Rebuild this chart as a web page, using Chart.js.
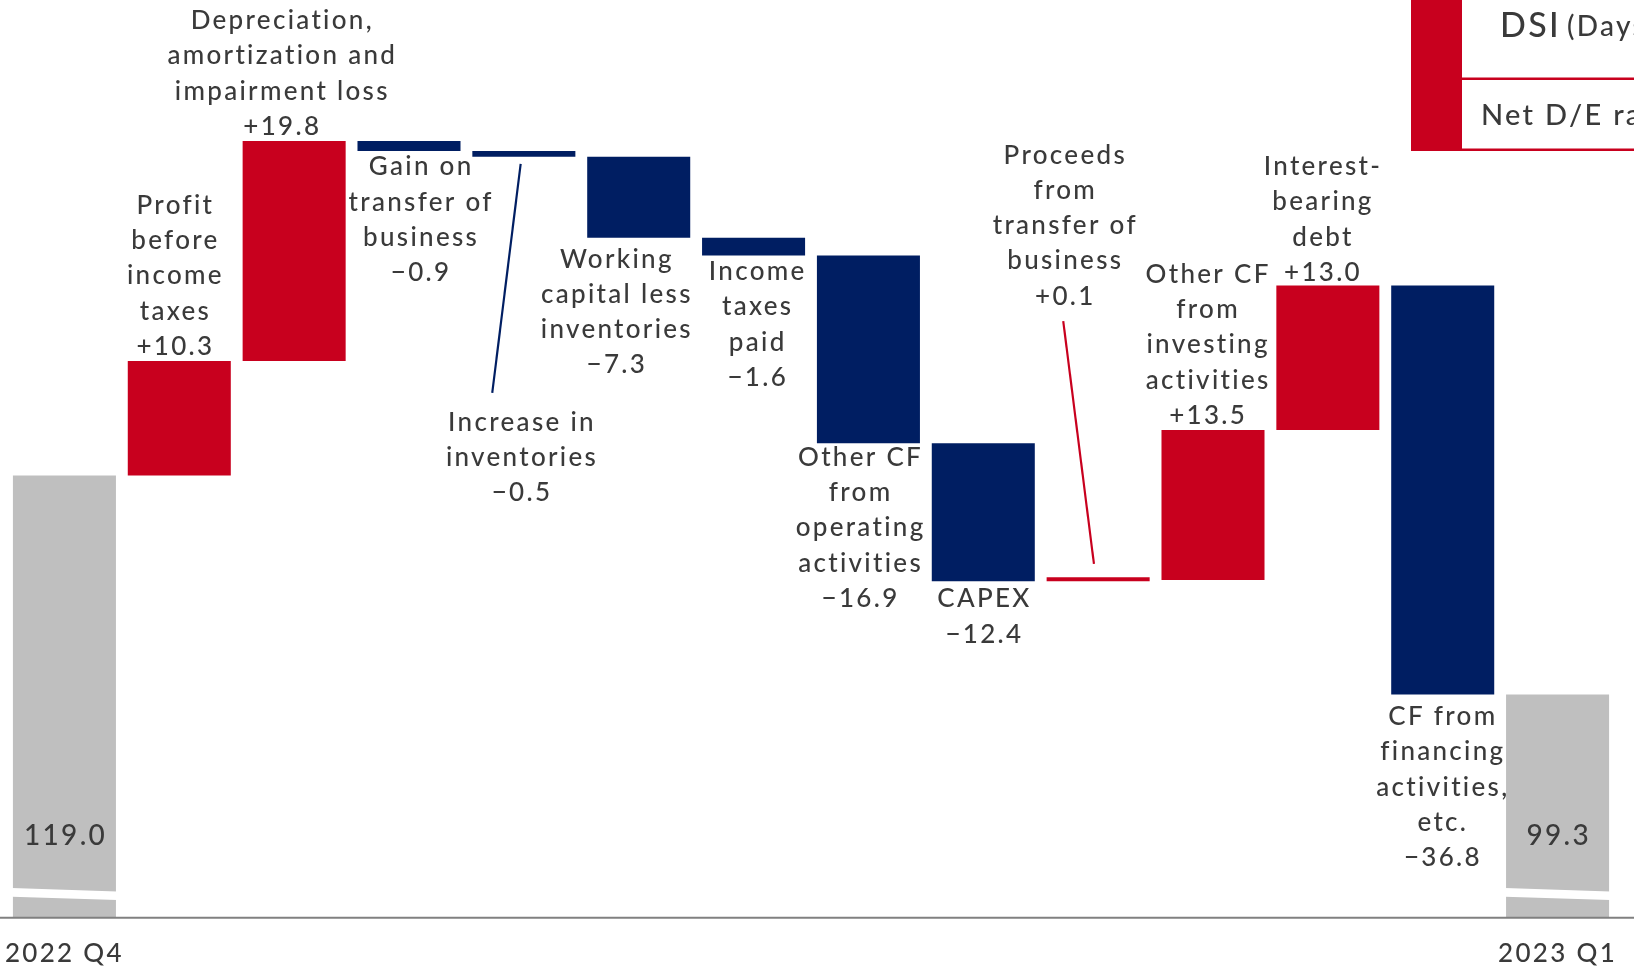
<!DOCTYPE html>
<html><head><meta charset="utf-8">
<script src="https://cdn.jsdelivr.net/npm/chart.js@4.4.0/dist/chart.umd.min.js"></script>
<style>html,body{margin:0;padding:0;background:#fff;overflow:hidden}</style>
</head><body>
<canvas id="c" width="1634" height="969"></canvas>
<script>
// ---------------- data ----------------
const categories = ['2022 Q4', 'Profit before income taxes', 'Depreciation, amortization and impairment loss',
  'Gain on transfer of business', 'Increase in inventories', 'Working capital less inventories',
  'Income taxes paid', 'Other CF from operating activities', 'CAPEX', 'Proceeds from transfer of business',
  'Other CF from investing activities', 'Interest-bearing debt', 'CF from financing activities, etc.', '2023 Q1'];
const categoryLines = [null, ['Profit', 'before', 'income', 'taxes'], ['Depreciation,', 'amortization and', 'impairment loss'],
  ['Gain on', 'transfer of', 'business'], ['Increase in', 'inventories'], ['Working', 'capital less', 'inventories'],
  ['Income', 'taxes', 'paid'], ['Other CF', 'from', 'operating', 'activities'], ['CAPEX'],
  ['Proceeds', 'from', 'transfer of', 'business'], ['Other CF', 'from', 'investing', 'activities'],
  ['Interest-', 'bearing', 'debt'], ['CF from', 'financing', 'activities,', 'etc.'], null];
const startValue = 119.0;
const endValue = 99.3;
const changes = [10.3, 19.8, -0.9, -0.5, -7.3, -1.6, -16.9, -12.4, 0.1, 13.5, 13.0, -36.8];
const tickLabels = ['2022 Q4', '', '', '', '', '', '', '', '', '', '', '', '', '2023 Q1'];
const axisMin = 79.2;
const axisMax = 161.8;

// ---------------- styles / layout ----------------
const RED = '#C8001E', NAVY = '#001E62', GRAY = '#BFBFBF', TEXT = '#3A3A3A';
const FONT = 'Lato, "Open Sans", sans-serif';
const WEIGHT = '500';
const LABEL_SIZE = 26, LINE_H = 35.2, SPACING = 2.3;
// label placement relative to each bar (pixels)
const labelLayout = [
  null,
  {pos: 'above', dx: -5, gap: 14.7},
  {pos: 'above', dx: -13, gap: 14.8},
  {pos: 'below', dx: 11, gap: 15.8},
  {pos: 'leaderBelow', dx: -3, gap: 265.6, line: [-3.2, 7.3, -31.6, 236.3]},
  {pos: 'below', dx: -23, gap: 21.5},
  {pos: 'below', dx: 3, gap: 16.2},
  {pos: 'below', dx: -9, gap: 14.3},
  {pos: 'below', dx: 0, gap: 17.8},
  {pos: 'leaderAbove', dx: -34, gap: 281, line: [-34.9, -256, -4.2, -13.3]},
  {pos: 'above', dx: -6, gap: 14.7},
  {pos: 'above', dx: -6, gap: 13.2},
  {pos: 'below', dx: -1, gap: 22.3},
  null
];

// ---------------- build waterfall ----------------
const bars = [startValue];
const colors = [GRAY];
let run = startValue;
changes.forEach(c => {
  const next = Math.round((run + c) * 10) / 10;
  bars.push([run, next]);
  colors.push(c >= 0 ? RED : NAVY);
  run = next;
});
bars.push(endValue);
colors.push(GRAY);

function fmtChange(c) { return (c >= 0 ? '+' : '\u2212') + Math.abs(c).toFixed(1); }

function centerText(ctx, t, x, y) {
  // compensate trailing letter spacing for centred text
  ctx.fillText(t, x + SPACING / 2, y);
}

const spacingPlugin = {
  id: 'spacing',
  beforeInit(chart) { chart.ctx.letterSpacing = SPACING + 'px'; },
  beforeDraw(chart) { chart.ctx.letterSpacing = SPACING + 'px'; }
};

const overlay = {
  id: 'overlay',
  afterDatasetsDraw(chart) {
    const ctx = chart.ctx, ca = chart.chartArea;
    const meta = chart.getDatasetMeta(0);
    ctx.save();
    ctx.letterSpacing = SPACING + 'px';
    // axis break on total bars
    [0, meta.data.length - 1].forEach(i => {
      const b = meta.data[i];
      const l = b.x - b.width / 2 - 1, r = b.x + b.width / 2 + 1;
      ctx.fillStyle = '#fff';
      ctx.beginPath();
      ctx.moveTo(l, ca.bottom - 29.7); ctx.lineTo(r, ca.bottom - 26.3);
      ctx.lineTo(r, ca.bottom - 17.7); ctx.lineTo(l, ca.bottom - 21);
      ctx.closePath(); ctx.fill();
    });
    // baseline across the page
    ctx.strokeStyle = '#808080'; ctx.lineWidth = 2;
    ctx.beginPath(); ctx.moveTo(0, ca.bottom); ctx.lineTo(chart.width, ca.bottom); ctx.stroke();

    // values inside total bars
    ctx.fillStyle = TEXT; ctx.textAlign = 'center'; ctx.textBaseline = 'middle';
    ctx.font = WEIGHT + ' 28px ' + FONT;
    [[0, startValue], [meta.data.length - 1, endValue]].forEach(([i, v]) => {
      centerText(ctx, v.toFixed(1), meta.data[i].x, ca.bottom - 82.3);
    });

    // change labels
    ctx.font = WEIGHT + ' ' + LABEL_SIZE + 'px ' + FONT;
    changes.forEach((c, k) => {
      const i = k + 1;
      const b = meta.data[i], L = labelLayout[i];
      const lines = categoryLines[i].concat([fmtChange(c)]);
      const top = Math.min(b.y, b.base), bottom = Math.max(b.y, b.base);
      const cx = b.x + L.dx;
      let firstY;
      if (L.pos === 'above' || L.pos === 'leaderAbove') {
        firstY = top - L.gap - (lines.length - 1) * LINE_H;
      } else {
        firstY = bottom + L.gap;
      }
      ctx.fillStyle = TEXT;
      lines.forEach((t, j) => centerText(ctx, t, cx, firstY + j * LINE_H));
      if (L.line) {
        const ref = L.pos === 'leaderAbove' ? top : bottom;
        ctx.strokeStyle = colors[i]; ctx.lineWidth = 2.2;
        ctx.beginPath();
        ctx.moveTo(b.x + L.line[0], ref + L.line[1]);
        ctx.lineTo(b.x + L.line[2], ref + L.line[3]);
        ctx.stroke();
      }
    });

    // partial table at top right
    ctx.fillStyle = RED;
    ctx.fillRect(1411, 0, 51, 151);
    ctx.fillRect(1462, 77.5, 200, 2.5);
    ctx.fillRect(1411, 148.5, 250, 2.5);
    ctx.fillStyle = TEXT; ctx.textAlign = 'left';
    ctx.font = WEIGHT + ' 34px ' + FONT;
    ctx.fillText('DSI', 1500, 26);
    const w = ctx.measureText('DSI').width;
    ctx.font = WEIGHT + ' 28px ' + FONT;
    ctx.fillText('(Days)', 1500 + w + 6, 27);
    ctx.font = WEIGHT + ' 29px ' + FONT;
    ctx.fillText('Net D/E ratio', 1481, 116);
    ctx.restore();
  }
};

new Chart(document.getElementById('c'), {
  type: 'bar',
  data: {
    labels: categories,
    datasets: [{
      data: bars,
      backgroundColor: colors,
      borderWidth: 0,
      borderSkipped: false,
      barPercentage: 0.897,
      categoryPercentage: 1.0,
      minBarLength: 4
    }]
  },
  options: {
    responsive: false,
    animation: false,
    devicePixelRatio: 1,
    layout: {padding: {left: 7, right: 19, top: 0, bottom: -20}},
    plugins: {legend: {display: false}, tooltip: {enabled: false}},
    scales: {
      x: {
        grid: {display: false, drawTicks: false},
        border: {display: false},
        ticks: {
          autoSkip: false, maxRotation: 0, padding: 0, color: TEXT,
          font: {family: FONT, size: 26, weight: WEIGHT, lineHeight: 2.738},
          callback: (v, i) => tickLabels[i]
        }
      },
      y: {display: false, min: axisMin, max: axisMax}
    }
  },
  plugins: [spacingPlugin, overlay]
});
</script>
</body></html>
